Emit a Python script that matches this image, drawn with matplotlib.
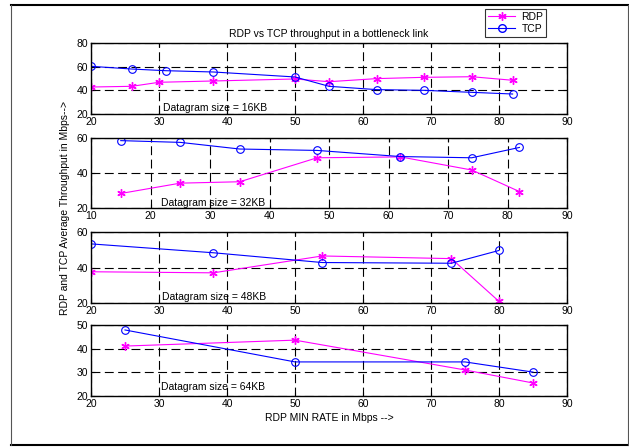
import matplotlib
matplotlib.use("Agg")
import matplotlib.pyplot as plt
from matplotlib.lines import Line2D

plt.rcParams['font.family'] = ['Liberation Sans', 'DejaVu Sans']
plt.rcParams['font.size'] = 7.5

# 16KB
rdp16_x = [20, 26, 30, 38, 50, 55, 62, 69, 76, 82]
rdp16_y = [42.8, 43.4, 46.8, 47.9, 49.6, 47.3, 49.9, 51.0, 51.5, 48.5]
tcp16_x = [20, 26, 31, 38, 50, 55, 62, 69, 76, 82]
tcp16_y = [60.3, 58.0, 56.6, 55.5, 51.3, 43.4, 40.6, 40.0, 38.3, 36.9]
# 32KB
rdp32_x = [15, 25, 35, 48, 62, 74, 82]
rdp32_y = [28.3, 34.2, 35.0, 48.7, 49.2, 41.7, 29.4]
tcp32_x = [15, 25, 35, 48, 62, 74, 82]
tcp32_y = [58.5, 57.5, 53.7, 52.9, 49.4, 48.7, 54.6]
# 48KB
rdp48_x = [20, 38, 54, 73, 80]
rdp48_y = [37.6, 37.0, 46.5, 45.0, 20.9]
tcp48_x = [20, 38, 54, 73, 80]
tcp48_y = [53.3, 48.3, 42.8, 42.4, 49.6]
# 64KB
rdp64_x = [25, 50, 75, 85]
rdp64_y = [41.1, 43.6, 31.0, 25.5]
tcp64_x = [25, 50, 75, 85]
tcp64_y = [47.9, 34.4, 34.4, 30.1]

panels = [
    (rdp16_x, rdp16_y, tcp16_x, tcp16_y, (20, 90), (20, 80), [20, 40, 60, 80],
     "Datagram size = 16KB", (30.6, 25.0)),
    (rdp32_x, rdp32_y, tcp32_x, tcp32_y, (10, 90), (20, 60), [20, 40, 60],
     "Datagram size = 32KB", (21.7, 22.7)),
    (rdp48_x, rdp48_y, tcp48_x, tcp48_y, (20, 90), (20, 60), [20, 40, 60],
     "Datagram size = 48KB", (30.4, 23.6)),
    (rdp64_x, rdp64_y, tcp64_x, tcp64_y, (20, 90), (20, 50), [20, 30, 40, 50],
     "Datagram size = 64KB", (30.3, 23.6)),
]

W, H = 629, 447
fig = plt.figure(figsize=(W / 100, H / 100), dpi=100)

tops = [43, 138, 232, 325]
bots = [114, 208, 303, 396]
left, right = 91, 567

AST = (6, 2, 0)
MAG = '#ff00ff'
BLU = '#0000ff'

axes = []
for (rx, ry, tx, ty, xl, yl, yt, label, tpos), t, b in zip(panels, tops, bots):
    ax = fig.add_axes([left / W, 1 - b / H, (right - left) / W, (b - t) / H])
    axes.append(ax)
    ax.plot(rx, ry, color=MAG, marker=AST, markersize=6, markeredgewidth=1.0,
            linewidth=0.8, label='RDP')
    ax.plot(tx, ty, color=BLU, marker='o', markersize=5.5, markerfacecolor='none',
            markeredgewidth=0.8, linewidth=0.8, label='TCP')
    ax.set_xlim(*xl)
    ax.set_ylim(*yl)
    ax.set_xticks(range(xl[0], xl[1] + 1, 10))
    ax.set_yticks(yt)
    ax.grid(True, color='black', linestyle=(0, (8, 4)), linewidth=0.8)
    ax.tick_params(direction='in', top=True, right=True, length=3, width=0.8, pad=2, labelsize=7.5)
    for s in ax.spines.values():
        s.set_linewidth(1.0)
    ax.text(tpos[0], tpos[1], label, fontsize=7.5, va='center', ha='left')

axes[0].set_title("RDP vs TCP throughput in a bottleneck link", fontsize=7.5, pad=4)
axes[3].set_xlabel("RDP MIN RATE in Mbps -->", fontsize=7.5, labelpad=3)
fig.text(65 / W, 1 - 208 / H, "RDP and TCP Average Throughput in Mbps-->", rotation=90,
         ha='center', va='center', fontsize=7.5)

handles = [Line2D([], [], color=MAG, marker=AST, markersize=6, markeredgewidth=1.0, linewidth=0.8),
           Line2D([], [], color=BLU, marker='o', markersize=5.5, markerfacecolor='none',
                  linewidth=0.8)]
leg = fig.legend(handles, ['RDP', 'TCP'], loc='upper left',
                 bbox_to_anchor=(485 / W, 1 - 9 / H), frameon=True, fancybox=False,
                 edgecolor='black', fontsize=7.5, handlelength=2.6, borderpad=0.3,
                 labelspacing=0.15, handletextpad=0.6, borderaxespad=0)
leg.get_frame().set_linewidth(0.8)

# figure frame
fig.add_artist(Line2D([11 / W, 628 / W], [1 - 5 / H, 1 - 5 / H], transform=fig.transFigure,
                      color='black', linewidth=1.5))
fig.add_artist(Line2D([11 / W, 628 / W], [1 - 445 / H, 1 - 445 / H], transform=fig.transFigure,
                      color='black', linewidth=1.5))
fig.add_artist(Line2D([11 / W, 11 / W], [1 - 5 / H, 1 - 445 / H], transform=fig.transFigure,
                      color='#555555', linewidth=0.8))
fig.add_artist(Line2D([628 / W, 628 / W], [1 - 5 / H, 1 - 445 / H], transform=fig.transFigure,
                      color='#555555', linewidth=0.8))

fig.savefig("out.png", dpi=100)
